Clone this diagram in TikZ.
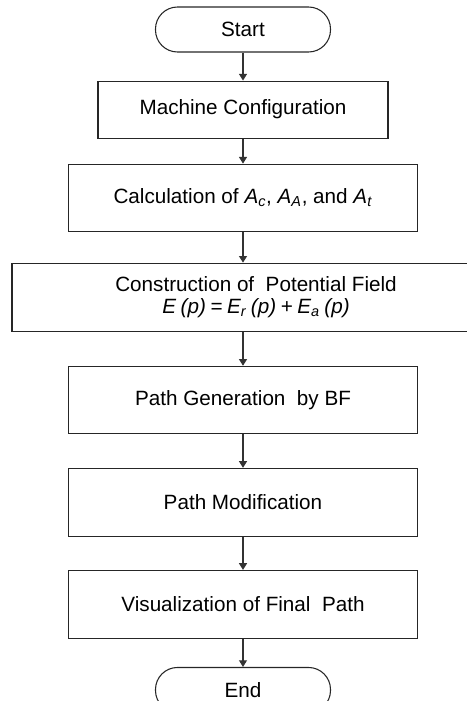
\documentclass[tikz,border=0pt]{standalone}
\usepackage{fontspec}
\setmainfont{Liberation Sans}
\usetikzlibrary{positioning, arrows.meta}

% thin space for the field equation
\newcommand{\eqsp}{\hspace{0.22em}}

\begin{document}
\begin{tikzpicture}[
    x=0.75pt, y=-0.75pt,
    >={Triangle[width=6pt, length=5pt]},
    process/.style={
        rectangle,
        draw=black!85,
        line width=0.8pt,
        minimum width=261.75pt,
        minimum height=50.25pt,
        inner sep=0pt,
        align=center,
        font=\fontsize{15.5pt}{17pt}\selectfont
    },
    terminal/.style={
        process,
        rounded corners=16.5pt,
        minimum width=131.25pt,
        minimum height=33.75pt
    },
    arrow/.style={->, line width=0.9pt, draw=black!80}
]
\useasboundingbox (0,0) rectangle (467,701);

% Start / steps / end
\node[terminal] (start) at (243,29.5) {Start};
\node[process, below=21pt of start, minimum width=217.5pt, minimum height=42.75pt] (config) {Machine Configuration};
\node[process, below=18.75pt of config] (calc) {Calculation of \textit{A}\textsubscript{\textit{c}}, \textit{A}\textsubscript{\textit{A}}, and \textit{A}\textsubscript{\textit{t}}};
\node[process, below=23.25pt of calc, xshift=9.75pt, minimum width=366pt, minimum height=51pt] (field) {
    Construction of \ Potential Field\\
    \textit{E\eqsp(p)\eqsp=\eqsp E\textsubscript{r}\eqsp(p)\eqsp+\eqsp E\textsubscript{a}\eqsp(p)}
};
\node[process, below=25.5pt of field.south -| calc, anchor=north] (gen) {Path Generation \ by BF};
\node[process, below=25.5pt of gen, minimum height=51pt] (modify) {Path Modification};
\node[process, below=24.75pt of modify, minimum height=51pt] (visual) {Visualization of Final \ Path};
\node[terminal, below=21pt of visual] (end) {End};

% Arrows - straight down
\draw[arrow] (start) -- (config);
\draw[arrow] (config) -- (calc);
\draw[arrow] (calc) -- (calc |- field.north);
\draw[arrow] (calc |- field.south) -- (gen);
\draw[arrow] (gen) -- (modify);
\draw[arrow] (modify) -- (visual);
\draw[arrow] (visual) -- (end);

\end{tikzpicture}
\end{document}
